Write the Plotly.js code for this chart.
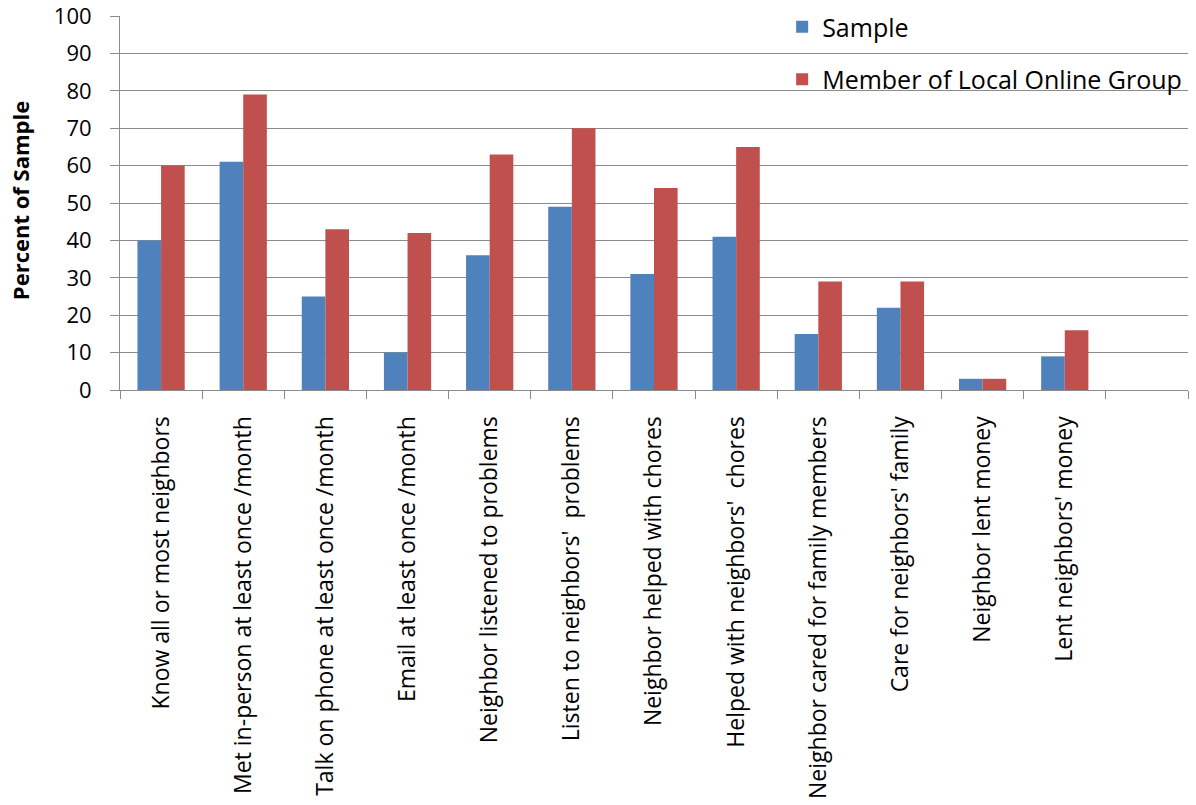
<!DOCTYPE html>
<html>
<head>
<meta charset="utf-8">
<script src="https://cdn.plot.ly/plotly-3.0.1.min.js"></script>
<style>html,body{margin:0;padding:0;background:#fff;}#chart{width:1196px;height:805px;}</style>
</head>
<body>
<div id="chart"></div>
<script>
const categories = [
  "Know all or most neighbors",
  "Met in-person at least once /month",
  "Talk on phone at least once /month",
  "Email at least once /month",
  "Neighbor listened to problems",
  "Listen to neighbors'  problems",
  "Neighbor helped with chores",
  "Helped with neighbors'  chores",
  "Neighbor cared for family members",
  "Care for neighbors' family",
  "Neighbor lent money",
  "Lent neighbors' money",
  " "
];
const sampleValues = [40, 61, 25, 10, 36, 49, 31, 41, 15, 22, 3, 9, null];
const memberValues = [60, 79, 43, 42, 63, 70, 54, 65, 29, 29, 3, 16, null];
const yTicks = [0, 10, 20, 30, 40, 50, 60, 70, 80, 90, 100];
const yTitle = "Percent of Sample";

const FONT = "'Open Sans', 'DejaVu Sans', sans-serif";

const traces = [
  {type: "bar", name: "Sample", x: categories, y: sampleValues,
   marker: {color: "#4F81BD"}, legendgroup: "a", hoverinfo: "y"},
  {type: "bar", name: "Member of Local Online Group", x: categories, y: memberValues,
   marker: {color: "#C0504D"}, legendgroup: "b", hoverinfo: "y"}
];

const layout = {
  width: 1196, height: 805,
  margin: {l: 120, r: 8, t: 16, b: 415, autoexpand: false},
  paper_bgcolor: "#fff", plot_bgcolor: "#fff",
  font: {family: FONT, color: "#000"},
  barmode: "group",
  bargap: 0.425,
  bargroupgap: 0,
  showlegend: true,
  legend: {
    xref: "paper", yref: "container",
    x: 0.620, y: 0.995, xanchor: "left", yanchor: "top",
    bgcolor: "rgba(0,0,0,0)",
    font: {family: FONT, size: 25, color: "#000"},
    traceorder: "grouped", tracegroupgap: 17
  },
  xaxis: {
    type: "category",
    categoryorder: "array",
    categoryarray: categories,
    tickangle: -90,
    tickson: "boundaries",
    ticks: "outside", ticklen: 8, tickcolor: "#8c8c8c", tickwidth: 1,
    showline: true, linecolor: "#8c8c8c", linewidth: 1,
    showgrid: false, zeroline: false,
    automargin: false,
    ticklabeloverflow: "allow",
    ticklabelstandoff: 16,
    tickfont: {family: FONT, size: 23, color: "#000"}
  },
  yaxis: {
    range: [0, 100],
    tickvals: yTicks,
    ticktext: yTicks.map(String),
    ticks: "outside", ticklen: 9, tickcolor: "#8c8c8c", tickwidth: 1,
    showline: true, linecolor: "#8c8c8c", linewidth: 1,
    showgrid: true, gridcolor: "#8c8c8c", gridwidth: 1,
    zeroline: false,
    automargin: false,
    ticklabeloverflow: "allow",
    ticklabelstandoff: 14,
    tickfont: {family: FONT, size: 22, color: "#000"}
  },
  annotations: [{
    text: "<b>" + yTitle + "</b>",
    xref: "paper", yref: "paper",
    x: -0.0936, y: 0.505, xanchor: "center", yanchor: "middle",
    textangle: -90, showarrow: false,
    font: {family: FONT, size: 22, color: "#000"}
  }]
};

Plotly.newPlot("chart", traces, layout, {displayModeBar: false, staticPlot: true});
</script>
</body>
</html>
